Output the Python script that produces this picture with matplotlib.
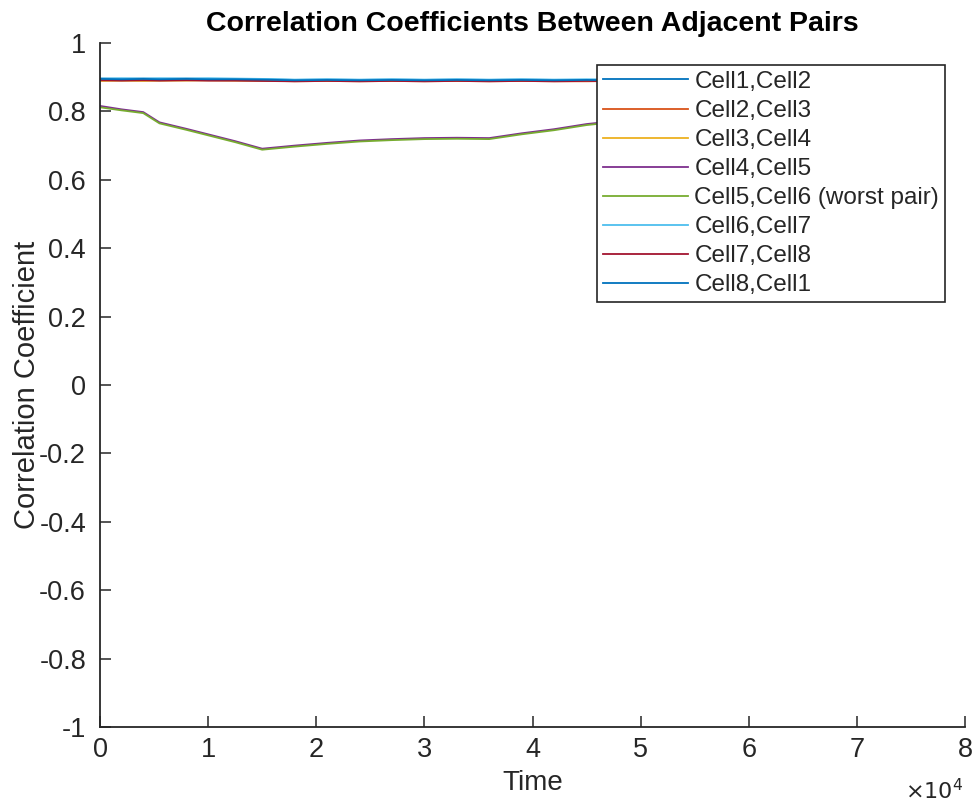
import matplotlib
matplotlib.use("Agg")
import matplotlib.pyplot as plt
from matplotlib.ticker import FuncFormatter

plt.rcParams['font.family'] = ['Liberation Sans', 'DejaVu Sans']

# Sample times (seconds)
time = [0, 2000, 4000, 5500, 8000, 10000, 12500, 15000, 18000, 21000, 24000,
        27000, 30000, 33000, 36000, 39000, 42000, 45000, 48000, 52000, 56000,
        60000, 64000]

# Correlation coefficient of each adjacent pair over time
c12 = [0.896, 0.895, 0.896, 0.895, 0.896, 0.895, 0.895, 0.894, 0.892, 0.893, 0.892,
       0.893, 0.892, 0.893, 0.892, 0.893, 0.892, 0.892, 0.893, 0.892, 0.892, 0.893, 0.892]
c23 = [0.892, 0.891, 0.892, 0.891, 0.892, 0.891, 0.891, 0.890, 0.888, 0.889, 0.888,
       0.889, 0.888, 0.889, 0.888, 0.889, 0.888, 0.888, 0.889, 0.888, 0.888, 0.889, 0.888]
c34 = [0.889, 0.890, 0.889, 0.890, 0.890, 0.891, 0.890, 0.890, 0.889, 0.889, 0.890,
       0.889, 0.890, 0.889, 0.889, 0.890, 0.889, 0.889, 0.890, 0.889, 0.889, 0.890, 0.889]
c45 = [0.816, 0.806, 0.798, 0.768, 0.749, 0.733, 0.713, 0.691, 0.700, 0.708, 0.715,
       0.719, 0.722, 0.723, 0.722, 0.736, 0.748, 0.763, 0.773, 0.780, 0.785, 0.788, 0.790]
c56 = [0.812, 0.803, 0.795, 0.765, 0.746, 0.730, 0.710, 0.688, 0.697, 0.705, 0.712,
       0.716, 0.719, 0.720, 0.719, 0.733, 0.745, 0.760, 0.770, 0.777, 0.782, 0.785, 0.787]
c67 = [0.896, 0.897, 0.896, 0.897, 0.896, 0.897, 0.896, 0.895, 0.893, 0.894, 0.893,
       0.894, 0.893, 0.894, 0.893, 0.894, 0.893, 0.894, 0.893, 0.894, 0.893, 0.894, 0.893]
c78 = [0.891, 0.890, 0.891, 0.890, 0.891, 0.890, 0.890, 0.889, 0.888, 0.889, 0.888,
       0.889, 0.888, 0.889, 0.888, 0.889, 0.888, 0.889, 0.888, 0.889, 0.888, 0.889, 0.888]
c81 = [0.895, 0.894, 0.895, 0.894, 0.895, 0.894, 0.894, 0.893, 0.891, 0.892, 0.891,
       0.892, 0.891, 0.892, 0.891, 0.892, 0.891, 0.892, 0.891, 0.892, 0.891, 0.892, 0.891]

labels = ["Cell1,Cell2", "Cell2,Cell3", "Cell3,Cell4", "Cell4,Cell5",
          "Cell5,Cell6 (worst pair)", "Cell6,Cell7", "Cell7,Cell8", "Cell8,Cell1"]
series = [c12, c23, c34, c45, c56, c67, c78, c81]
colors = ["#0072BD", "#D95319", "#EDB120", "#7E2F8E", "#77AC30", "#4DBEEE",
          "#A2142F", "#0072BD"]

ink = "#262626"

fig = plt.figure(figsize=(9.76, 8.07), dpi=100)
ax = fig.add_axes([100 / 976, 1 - 727 / 807, 865 / 976, 684 / 807])

for vals, lab, col in zip(series, labels, colors):
    ax.plot(time, vals, color=col, lw=1.3, label=lab)

ax.set_xlim(0, 80000)
ax.set_ylim(-1, 1)
ax.set_xticks(range(0, 80001, 10000))
ax.set_yticks([-1, -0.8, -0.6, -0.4, -0.2, 0, 0.2, 0.4, 0.6, 0.8, 1])
ax.xaxis.set_major_formatter(FuncFormatter(lambda v, p: f"{v / 1e4:g}"))
ax.yaxis.set_major_formatter(FuncFormatter(lambda v, p: f"{v:g}"))

for side in ("top", "right"):
    ax.spines[side].set_visible(False)
for side in ("left", "bottom"):
    ax.spines[side].set_color(ink)
    ax.spines[side].set_linewidth(1.3)
ax.tick_params(direction="in", length=8, width=1.1, color=ink,
               labelcolor=ink, labelsize=19.5)
ax.tick_params(axis="y", pad=10)
ax.tick_params(axis="x", pad=7)

ax.set_xlabel("Time", fontsize=20, color=ink, labelpad=5)
ax.set_ylabel("Correlation Coefficient", fontsize=21, color=ink, labelpad=-1)
ax.set_title("Correlation Coefficients Between Adjacent Pairs",
             fontsize=20.5, fontweight="bold", color="black", pad=9)

# exponent note for the time axis
fig.text(963 / 976, 3 / 807, r"$\times10^{4}$", ha="right", va="bottom",
         fontsize=16, color=ink)

leg = ax.legend(loc="upper right", bbox_to_anchor=(0.977, 0.968),
                borderaxespad=0, fontsize=17.5, handlelength=3.5,
                handletextpad=0.25, labelspacing=0.29, borderpad=0.25,
                fancybox=False, framealpha=1, edgecolor=ink)
leg.get_frame().set_linewidth(1.2)
for t in leg.get_texts():
    t.set_color(ink)

fig.savefig("out.png", dpi=100)
